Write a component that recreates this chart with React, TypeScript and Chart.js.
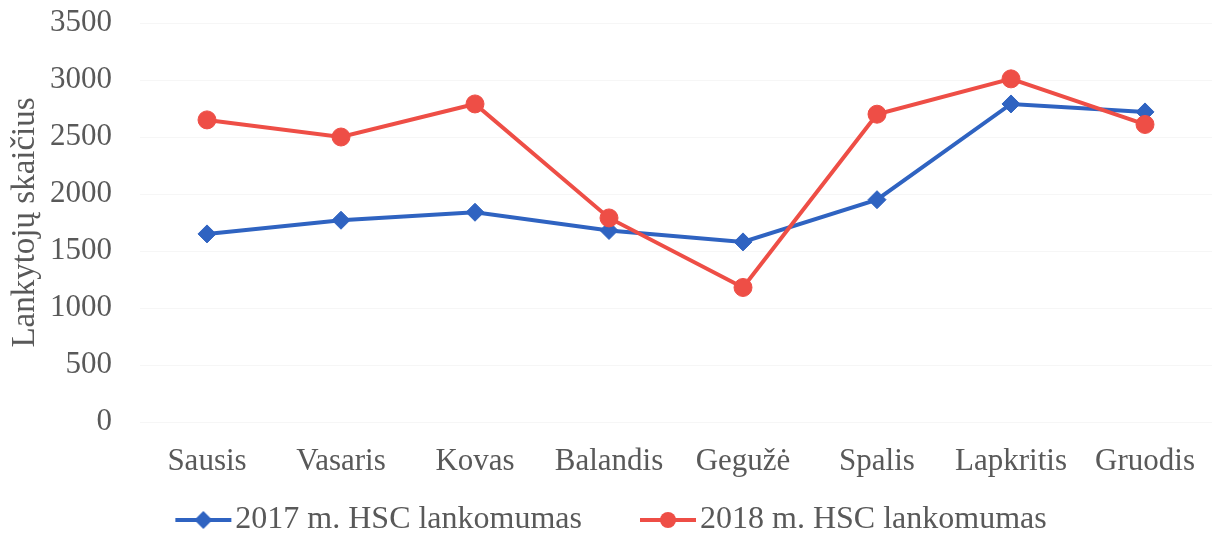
import React, { useEffect, useRef } from "react";
import { Chart, registerables } from "chart.js";

Chart.register(...registerables);

const months = ["Sausis", "Vasaris", "Kovas", "Balandis", "Gegužė", "Spalis", "Lapkritis", "Gruodis"];
const visits2017 = [1650, 1770, 1840, 1680, 1580, 1950, 2790, 2720];
const visits2018 = [2650, 2500, 2790, 1790, 1180, 2700, 3010, 2610];
const seriesNames = ["2017 m. HSC lankomumas", "2018 m. HSC lankomumas"];
const yTitle = "Lankytojų skaičius";

const BLUE = "#2F63C1";
const RED = "#EE4E46";
const TEXT = "#595959";
const FONT = "'Liberation Serif', 'Times New Roman', serif";

function legendIcon(color: string, kind: "diamond" | "circle") {
  const c = document.createElement("canvas");
  c.width = 120;
  c.height = 24;
  const ctx = c.getContext("2d")!;
  ctx.strokeStyle = color;
  ctx.lineWidth = 4;
  ctx.beginPath();
  ctx.moveTo(62, 12);
  ctx.lineTo(118, 12);
  ctx.stroke();
  ctx.fillStyle = color;
  ctx.beginPath();
  if (kind === "diamond") {
    ctx.moveTo(90, 3);
    ctx.lineTo(99, 12);
    ctx.lineTo(90, 21);
    ctx.lineTo(81, 12);
    ctx.closePath();
  } else {
    ctx.arc(90, 12, 8, 0, Math.PI * 2);
  }
  ctx.fill();
  return c;
}

const legendShift = {
  id: "legendShift",
  afterLayout(chart: any) {
    if (chart.legend) {
      chart.legend.left -= 19;
      chart.legend.right -= 19;
    }
  },
};

export default function App() {
  const ref = useRef<HTMLCanvasElement | null>(null);

  useEffect(() => {
    if (!ref.current) return;
    const icons = [legendIcon(BLUE, "diamond"), legendIcon(RED, "circle")];
    const chart = new Chart(ref.current, {
      type: "line",
      data: {
        labels: months,
        datasets: [
          {
            label: seriesNames[0],
            data: visits2017,
            borderColor: BLUE,
            backgroundColor: BLUE,
            borderWidth: 4,
            pointStyle: "rectRot",
            pointRadius: 9,
            pointBorderWidth: 1,
            tension: 0,
            order: 2,
          },
          {
            label: seriesNames[1],
            data: visits2018,
            borderColor: RED,
            backgroundColor: RED,
            borderWidth: 4,
            pointStyle: "circle",
            pointRadius: 9,
            pointBorderWidth: 1,
            tension: 0,
            order: 1,
          },
        ],
      },
      plugins: [legendShift],
      options: {
        animation: false,
        responsive: true,
        maintainAspectRatio: false,
        layout: { autoPadding: false, padding: { top: 23, left: 0, right: 0, bottom: 0 } },
        scales: {
          x: {
            offset: true,
            grid: { display: false, drawTicks: false, offset: true },
            border: { display: false },
            ticks: { color: TEXT, font: { family: FONT, size: 31 }, padding: 21, maxRotation: 0, autoSkip: false },
            afterFit: (s: any) => {
              s.height = 72;
              s.paddingLeft = 0;
              s.paddingRight = 0;
            },
          },
          y: {
            min: 0,
            max: 3500,
            grid: { color: "#f6f6f6", drawTicks: false },
            border: { display: false },
            ticks: {
              stepSize: 500,
              color: TEXT,
              font: { family: FONT, size: 31 },
              padding: 28,
              callback: (v: any) => String(v),
            },
            title: {
              display: true,
              text: yTitle,
              color: TEXT,
              font: { family: FONT, size: 33 },
              padding: { top: 6, bottom: 0 },
            },
            afterFit: (s: any) => {
              s.width = 140;
              s.paddingTop = 0;
              s.paddingBottom = 0;
            },
          },
        },
        plugins: {
          tooltip: { enabled: false },
          legend: {
            position: "bottom",
            maxHeight: 43,
            labels: {
              usePointStyle: true,
              pointStyleWidth: 92,
              padding: 10,
              color: TEXT,
              font: { family: FONT, size: 32 },
              sort: (a: any, b: any) => a.datasetIndex - b.datasetIndex,
              generateLabels: (ch: any) => {
                const items = Chart.defaults.plugins.legend.labels.generateLabels(ch);
                return items.map((it: any) => ({ ...it, pointStyle: icons[it.datasetIndex] }));
              },
            },
          },
        },
      },
    });
    return () => chart.destroy();
  }, []);

  return (
    <div style={{ position: "absolute", left: 0, top: 0, width: 1212, height: 537, background: "#fff" }}>
      <canvas ref={ref} />
    </div>
  );
}
